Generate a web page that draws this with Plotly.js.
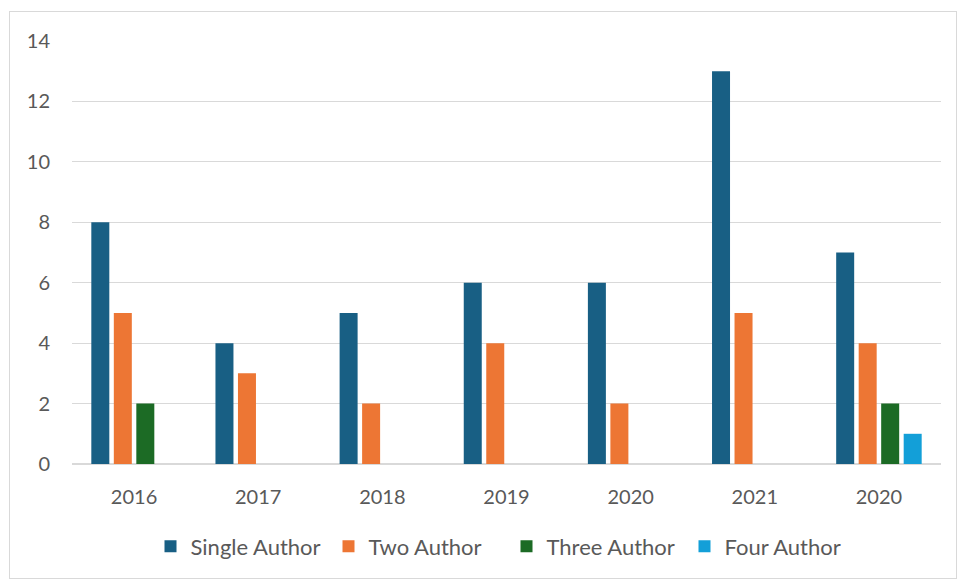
<!DOCTYPE html>
<html><head><meta charset="utf-8">
<script src="https://cdn.plot.ly/plotly-3.0.1.min.js"></script>
<style>
html,body{margin:0;padding:0;background:#fff;}
#wrap{position:relative;width:959px;height:581px;}
#chart{position:absolute;left:0;top:0;width:959px;height:581px;}
#frame{position:absolute;left:9px;top:11px;width:946px;height:566px;border:1px solid #d9d9d9;pointer-events:none;}
</style></head>
<body><div id="wrap"><div id="chart"></div><div id="frame"></div></div>
<script>
const categories = ["2016","2017","2018","2019","2020","2021","2020"];
const singleAuthor = [8,4,5,6,6,13,7];
const twoAuthor = [5,3,2,4,2,5,4];
const threeAuthor = [2,0,0,0,0,0,2];
const fourAuthor = [0,0,0,0,0,0,1];
const seriesNames = ["Single Author","Two Author","Three Author","Four Author"];
const colors = ["#185f84","#ed7634","#1c6b25","#139fd8"];
const yTicks = [0,2,4,6,8,10,12,14];

const idx = categories.map((c,i)=>i);
const data = [singleAuthor,twoAuthor,threeAuthor,fourAuthor].map((vals,k)=>({
  type:'bar', x: idx, y: vals, name: seriesNames[k],
  marker:{color:colors[k], line:{width:0}},
  hoverinfo:'y'
}));
const font = "Lato, Open Sans, sans-serif";
const layout = {
  width:959, height:581,
  margin:{l:72, r:18, t:41, b:117},
  paper_bgcolor:'rgba(0,0,0,0)', plot_bgcolor:'#fff',
  barmode:'group', bargap:0.275, bargroupgap:0.2,
  font:{family:font, color:'#595959', size:19},
  xaxis:{tickvals:idx, ticktext:categories, range:[-0.5,6.5], showgrid:false, zeroline:false,
    showline:false, ticks:'', tickfont:{size:20, color:'#595959'}, ticklabelstandoff:19},
  yaxis:{range:[0,14], tickvals:yTicks, showgrid:true, gridcolor:'#d9d9d9', gridwidth:1,
    zeroline:true, zerolinecolor:'#d9d9d9', zerolinewidth:1.3, showline:false, ticks:'',
    tickfont:{size:20, color:'#595959'}, ticklabelstandoff:21},
  showlegend:true,
  legend:{orientation:'h', x:0.50, xanchor:'center', y:-0.145, yanchor:'top',
    font:{size:22, color:'#595959'}, itemwidth:30, tracegroupgap:0, traceorder:'normal',
    entrywidth:133, entrywidthmode:'pixels'}
};
Plotly.newPlot('chart', data, layout, {displayModeBar:false, staticPlot:true});
</script></body></html>
